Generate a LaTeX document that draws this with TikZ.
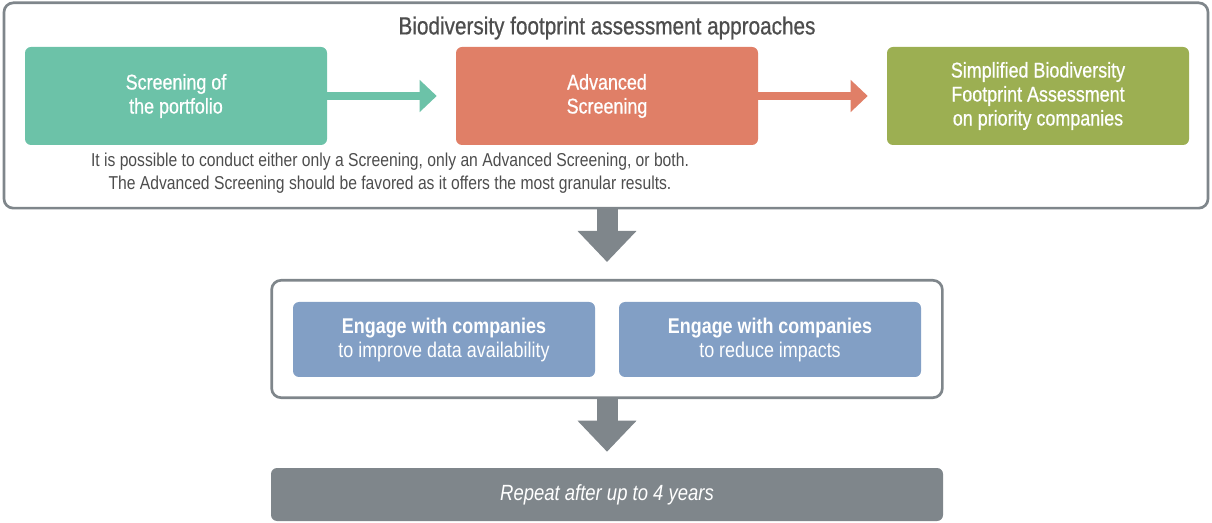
\documentclass[tikz,border=0pt]{standalone}
\usepackage{fontspec}
\setmainfont{Liberation Sans}[FakeStretch=0.84]
\newfontfamily\mediumfont{Liberation Sans}[FakeStretch=0.84, FakeBold=0.7]
\usetikzlibrary{arrows.meta}
\usetikzlibrary{positioning}
\definecolor{frameGray}{HTML}{7F868B}
\definecolor{textGray}{HTML}{4D4D4D}
\definecolor{screenGreen}{HTML}{6CC2A8}
\definecolor{advOrange}{HTML}{E07F67}
\definecolor{sbfaOlive}{HTML}{9CAF52}
\definecolor{engageBlue}{HTML}{829FC5}
\tikzset{box/.style = {rounded corners = 4.5pt, text = white, align = center,
                       font = \fontsize{16}{18}\selectfont, inner sep = 0}}
\tikzset{frame/.style = {draw = frameGray, line width = 2pt, rounded corners = 7pt, inner sep = 0}}
\tikzset{flow/.style = {line width = 6pt, -{Triangle[length = 12.75pt, width = 23.25pt]},
                        shorten > = 14.25pt}}
\tikzset{down/.style = {frameGray, line width = 15.75pt, -{Triangle[length = 23.25pt, width = 42.75pt]}}}

\begin{document}
\begin{tikzpicture}[x = 0.75pt, y = -0.75pt]
      \useasboundingbox (0, 0) rectangle (1212, 523);

      \node [frame, minimum width = 903pt, minimum height = 154pt] (approaches) at (606, 105.5) {};
      \node [text = textGray, font = \mediumfont\fontsize{18.5}{20}\selectfont] (title) at (607, 28) {Biodiversity footprint assessment approaches};

      \node [box, fill = screenGreen, minimum width = 226.5pt, minimum height = 73.5pt] (screening) at (176, 96) {\mediumfont Screening of\\\mediumfont the portfolio};
      \node [box, fill = advOrange, minimum width = 226.5pt, minimum height = 73.5pt] (advanced) at (607, 96) {\mediumfont Advanced\\\mediumfont Screening};
      \node [box, fill = sbfaOlive, minimum width = 226.5pt, minimum height = 73.5pt] (sbfa) at (1038, 96) {\mediumfont Simplified Biodiversity\\\mediumfont Footprint Assessment\\\mediumfont on priority companies};

      \draw [flow, screenGreen] (screening) -- (advanced);
      \draw [flow, advOrange] (advanced) -- (sbfa);

      \node [text = textGray, align = center, font = \fontsize{14}{17}\selectfont] (note) at (390, 173)
        {It is possible to conduct either only a Screening, only an Advanced Screening, or both.\\
         The Advanced Screening should be favored as it offers the most granular results.};

      \node [frame, minimum width = 503pt, minimum height = 88pt] (engage) at (607, 339) {};
      \node [box, fill = engageBlue, minimum width = 226.5pt, minimum height = 56.25pt] (dataAvail) at (444, 339.5) {\textbf{Engage with companies}\\to improve data availability};
      \node [box, fill = engageBlue, minimum width = 226.5pt, minimum height = 56.25pt] (impacts) at (770, 339.5) {\textbf{Engage with companies}\\to reduce impacts};

      \node [box, fill = frameGray, minimum width = 504pt, minimum height = 39.75pt, font = \fontsize{16.5}{18}\selectfont] (repeat) at (607, 494.5) {\itshape Repeat after up to 4 years};

      \draw [down, shorten > = 12.75pt] (approaches.south -| title) -- (engage.north -| title);
      \draw [down, shorten > = 12pt] (engage.south -| title) -- (repeat.north -| title);
    \end{tikzpicture}
\end{document}
